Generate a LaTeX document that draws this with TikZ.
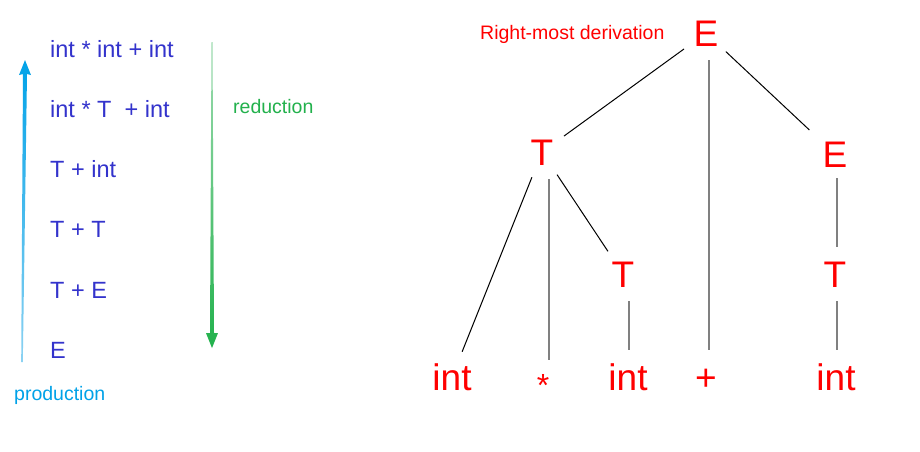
\documentclass[tikz,border=0pt]{standalone}
\usepackage{fontspec}
\setmainfont{Liberation Sans}
\usetikzlibrary{calc}
\definecolor{blueT}{RGB}{51,51,204}
\definecolor{redT}{RGB}{255,0,0}
\definecolor{greenT}{RGB}{34,177,76}
\definecolor{greenL}{RGB}{160,220,178}
\definecolor{cyanT}{RGB}{0,162,232}
\definecolor{cyanL}{RGB}{140,210,242}
\definecolor{lineG}{RGB}{128,128,128}
\begin{document}
\begin{tikzpicture}[x=1pt,y=-1pt,
  deriv/.style={anchor=base west, inner sep=0pt, text=blueT, font=\fontsize{23.5}{27}\selectfont},
  lbl/.style={anchor=base west, inner sep=0pt, font=\fontsize{19.5}{23}\selectfont},
  sym/.style={circle, minimum size=54pt, inner sep=0pt, text=redT, font=\fontsize{37}{40}\selectfont, text height=26.6pt, text depth=0pt},
  diag/.style={black, line width=1pt},
  vert/.style={lineG, line width=1.3pt},
]
\useasboundingbox[fill=white] (0,0) rectangle (920,451);

% production arrow (upwards)
\shade[top color=cyanT, bottom color=cyanL]
  (21.2,362) -- (23,74) -- (19,75) -- (25,60) -- (31,75) -- (27,74) -- (22.8,362) -- cycle;
% reduction arrow (downwards)
\shade[top color=greenL, bottom color=greenT]
  (211.5,42) -- (212.5,42) -- (214,333) -- (218,333) -- (212,348) -- (206,333) -- (210,333) -- cycle;

% derivation steps
\node[deriv] (d1) at (50,57)  {int * int + int};
\node[deriv] (d2) at (50,117) {int * T\ \ + int};
\node[deriv] (d3) at (50,177) {T + int};
\node[deriv] (d4) at (50,237) {T + T};
\node[deriv] (d5) at (50,298) {T + E};
\node[deriv] (d6) at (50,358) {E};

\node[lbl, text=cyanT]  (prod) at (14,400)  {production};
\node[lbl, text=greenT] (redu) at (233,113) {reduction};
\node[lbl, text=redT]   (rmd)  at (480,39)  {Right-most derivation};

% parse tree
\node[sym] (E)    at (706,33)  {E};
\node[sym] (T)    at (542,152) {T};
\node[sym, minimum size=70pt] (Er) at (835,154) {E};
\node[sym] (Tm)   at (623,274) {T};
\node[sym] (Tr)   at (835,274) {T};
\node[sym] (i1)   at (452,377) {int};
\node[sym, font=\fontsize{32}{36}\selectfont] (star) at (543,383) {*};
\node[sym] (i2)   at (628,377) {int};
\node[sym] (plus) at (706,377) {+};
\node[sym] (i3)   at (836,377) {int};

\draw[diag] (E) -- (T);
\draw[diag] (E) -- (Er);
\draw[vert] ([xshift=3pt]E.south) -- ([xshift=3pt]plus.north);
\draw[diag] (T) -- (i1);
\draw[vert] ([xshift=7pt]T.south) -- ([xshift=6pt,yshift=-4pt]star.north);
\draw[diag] (T) -- (Tm);
\draw[vert] ([xshift=1pt]i2.north |- Tm.south) -- ([xshift=1pt]i2.north);
\draw[vert] ([xshift=2pt,yshift=11pt]Er.south) -- ([xshift=2pt]Tr.north);
\draw[vert] ([xshift=1pt]i3.north |- Tr.south) -- ([xshift=1pt]i3.north);
\end{tikzpicture}
\end{document}
